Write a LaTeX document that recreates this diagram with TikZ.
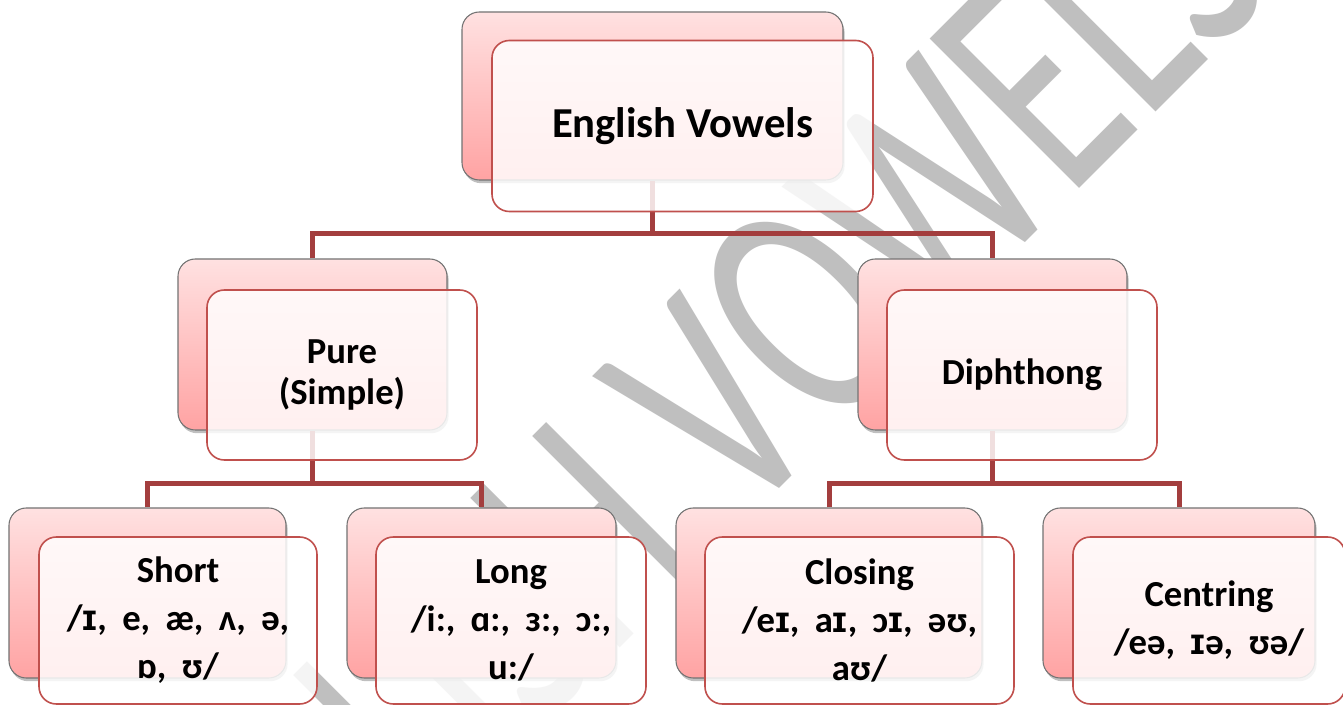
\documentclass[tikz,border=0pt]{standalone}
\usepackage{fontspec}
\usepackage{graphicx}
\setmainfont{Carlito}
\newfontfamily\wmfont{Carlito}
\newfontfamily\libsans{Liberation Sans}
\newcommand{\smI}{{\libsans ɪ}}
\usetikzlibrary{shadows}
\definecolor{pinktop}{RGB}{255,225,225}
\definecolor{pinkbot}{RGB}{255,163,163}
\definecolor{backborder}{RGB}{115,115,115}
\definecolor{frontred}{RGB}{192,80,77}
\definecolor{linkred}{RGB}{163,62,62}
\definecolor{wmgray}{RGB}{191,191,191}
\tikzset{
  wd/.style={minimum width=#1*0.75pt},
  ht/.style={minimum height=#1*0.75pt},
  backbox/.style={draw=backborder, line width=0.8pt, rounded corners=13pt,
    top color=pinktop, bottom color=pinkbot, inner sep=0pt,
    drop shadow={shadow xshift=1.2pt, shadow yshift=-2.4pt, opacity=0.45, fill=black!55}},
  frontbox/.style={draw=frontred, line width=1.2pt, rounded corners=13pt,
    fill=white, fill opacity=0.84, text opacity=1, inner sep=0pt, align=center},
  lvlA/.style={font={\bfseries\fontsize{32}{38}\selectfont}},
  lvlB/.style={font={\bfseries\fontsize{27.5}{31}\selectfont}},
  lvlC/.style={font={\bfseries\fontsize{27.5}{36}\selectfont\spaceskip=0.42em\relax}},
  link/.style={draw=linkred, line width=3.75pt},
  watermark/.style={text=wmgray, inner sep=0pt, anchor=base, rotate=45,
    font={\wmfont\fontsize{247}{247}\selectfont}}
}
\begin{document}
\begin{tikzpicture}[x=0.75pt, y=-0.75pt]
\useasboundingbox (0,0) rectangle (1343,705);
\fill[white] (0,0) rectangle (1343,705);
% watermark
\begin{scope}
  \clip (0,0) rectangle (1343,705);
  \node[watermark] (wm) at (720,548) {\scalebox{0.67}[1]{ENGLISH VOWELS}};
\end{scope}
% back boxes
\node[backbox, wd=381, ht=168] (topB) at (652.5,96) {};
\node[backbox, wd=269, ht=171] (pureB) at (312.5,344.5) {};
\node[backbox, wd=269, ht=171] (diphB) at (992.5,344.5) {};
\node[backbox, wd=277, ht=170] (shortB) at (147.5,593) {};
\node[backbox, wd=269, ht=170] (longB) at (481.5,593) {};
\node[backbox, wd=306, ht=170] (closB) at (829,593) {};
\node[backbox, wd=272, ht=170] (centB) at (1179,593) {};
% connectors
\coordinate (j1) at (652.5,234);
\coordinate (j2) at (312.5,484);
\coordinate (j3) at (992.5,484);
\draw[link] (topB.south) -- (j1);
\draw[link] (pureB.north) |- (j1) -| (diphB.north);
\draw[link] (pureB.south) -- (j2);
\draw[link] (shortB.north) |- (j2) -| (longB.north);
\draw[link] (diphB.south) -- (j3);
\draw[link] (closB.north) |- (j3) -| (centB.north);
% front boxes
\node[frontbox, lvlA, wd=381, ht=171] (top) at (682.5,126) {English Vowels};
\node[frontbox, lvlB, wd=270, ht=170] (pure) at (342,375) {Pure\\(Simple)};
\node[frontbox, lvlB, wd=270, ht=170] (diph) at (1022,375) {Diphthong};
\node[frontbox, lvlC, wd=278, ht=167] (short) at (178,620.5) {Short\\/\smI, e, æ, ʌ, ə,\\ɒ, ʊ/};
\node[frontbox, lvlC, wd=270, ht=167] (long) at (511,620.5) {Long\\/i:, ɑ:, ɜ:, ɔ:,\\u:/};
\node[frontbox, lvlC, wd=309, ht=167] (clos) at (859.5,620.5) {Closing\\/e\smI, a\smI, ɔ\smI, əʊ,\\aʊ/};
\node[frontbox, lvlC, wd=272, ht=167] (cent) at (1209,620.5) {Centring\\/eə, \smI ə, ʊə/};
\end{tikzpicture}
\end{document}
